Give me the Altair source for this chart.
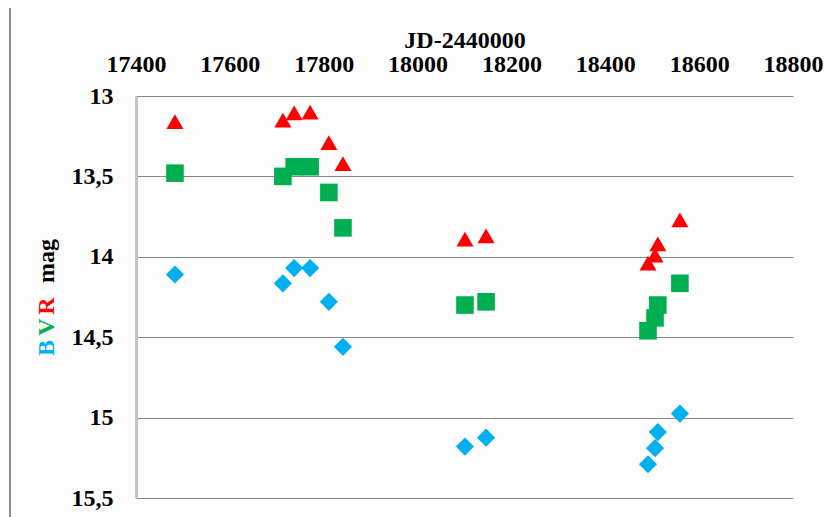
import altair as alt
import pandas as pd

# Julian dates (JD-2440000) of the observations
jd = [17483, 17713, 17737, 17771, 17811, 17841, 18101, 18146, 18491, 18506, 18512, 18559]
# magnitudes per band
mag_B = [14.11, 14.165, 14.07, 14.07, 14.28, 14.56, 15.18, 15.125, 15.29, 15.19, 15.09, 14.975]
mag_V = [13.48, 13.50, 13.44, 13.44, 13.60, 13.82, 14.30, 14.28, 14.46, 14.38, 14.30, 14.165]
mag_R = [13.16, 13.15, 13.105, 13.10, 13.29, 13.42, 13.89, 13.87, 14.04, 13.99, 13.92, 13.77]

x_ticks = [17400, 17600, 17800, 18000, 18200, 18400, 18600, 18800]
y_ticks = [13, 13.5, 14, 14.5, 15, 15.5]

bands = ["B", "V", "R"]
colors = ["#00B0F0", "#00B050", "#FF0000"]
shapes = ["diamond", "square", "triangle-up"]
sizes = [330, 290, 270]

rows = []
for band, mags in zip(bands, [mag_B, mag_V, mag_R]):
    for d, m in zip(jd, mags):
        rows.append({"jd": d, "mag": m, "band": band})
df = pd.DataFrame(rows)

FONT = "Liberation Serif"
FS = 24

points = alt.Chart(df).mark_point(filled=True, opacity=1, strokeWidth=0).encode(
    x=alt.X("jd:Q",
            scale=alt.Scale(domain=[17400, 18800], nice=False, zero=False),
            axis=alt.Axis(orient="top", values=x_ticks, grid=False, ticks=False, tickSize=0,
                          domain=False, title="JD-2440000", format="d",
                          labelFlush=False, labelOverlap=False,
                          labelFont=FONT, labelFontSize=FS, labelFontWeight="bold",
                          labelColor="black", labelBaseline="alphabetic", labelPadding=25,
                          titleFont=FONT, titleFontSize=FS, titleFontWeight="bold",
                          titleColor="black", titleBaseline="alphabetic", titleY=-49)),
    y=alt.Y("mag:Q",
            scale=alt.Scale(domain=[13, 15.5], reverse=True, nice=False, zero=False),
            axis=alt.Axis(orient="left", values=y_ticks, grid=True, gridColor="#878787",
                          gridWidth=1, ticks=False, tickSize=0, domain=True,
                          domainColor="#C4C4C4", domainWidth=3, title=None,
                          labelFlush=False, labelOverlap=False,
                          labelExpr="replace(toString(datum.value), '.', ',')",
                          labelFont=FONT, labelFontSize=FS, labelFontWeight="bold",
                          labelColor="black", labelPadding=23)),
    color=alt.Color("band:N", scale=alt.Scale(domain=bands, range=colors), legend=None),
    shape=alt.Shape("band:N", scale=alt.Scale(domain=bands, range=shapes), legend=None),
    size=alt.Size("band:N", scale=alt.Scale(domain=bands, range=sizes), legend=None),
)

def title_part(txt, color, ypix):
    return alt.Chart(pd.DataFrame({"t": [txt]})).mark_text(
        font=FONT, fontSize=FS, fontWeight="bold", color=color, angle=270,
        align="center", baseline="middle"
    ).encode(text="t:N", x=alt.value(-89), y=alt.value(ypix))

t_mag = title_part("mag", "black", 165)
t_R = title_part("R", "#FF0000", 210)
t_V = title_part("V", "#00B050", 231)
t_B = title_part("B", "#00B0F0", 252)

border = alt.Chart(pd.DataFrame({"a": [0]})).mark_rule(color="#8C8C8C", strokeWidth=2).encode(
    x=alt.value(-126), y=alt.value(-89), y2=alt.value(430)
)

chart = alt.layer(border, points, t_mag, t_R, t_V, t_B).properties(
    width=657, height=402,
    autosize=alt.AutoSizeParams(type="none"),
    padding={"left": 128, "top": 88, "right": 30, "bottom": 22},
    background="#FDFDFD",
).configure_view(strokeWidth=0)

chart.save("out.html", embed_options={"renderer": "svg", "actions": False})
